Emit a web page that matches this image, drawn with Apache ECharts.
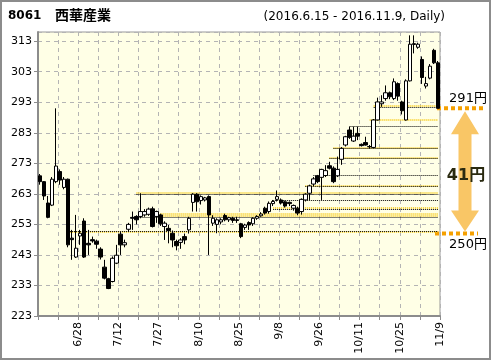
<!DOCTYPE html>
<html><head><meta charset="utf-8">
<script src="https://cdn.jsdelivr.net/npm/echarts@6/dist/echarts.min.js"></script>
<style>html,body{margin:0;padding:0;background:#fff}#c{width:496px;height:364px}</style>
</head><body><div id="c"></div>
<script>
const dates = ['6/15','6/16','6/17','6/20','6/21','6/22','6/23','6/24','6/27','6/28',
 '6/29','6/30','7/1','7/4','7/5','7/6','7/7','7/8','7/11','7/12',
 '7/13','7/14','7/15','7/19','7/20','7/21','7/22','7/25','7/26','7/27',
 '7/28','7/29','8/1','8/2','8/3','8/4','8/5','8/8','8/9','8/10',
 '8/12','8/15','8/16','8/17','8/18','8/19','8/22','8/23','8/24','8/25',
 '8/26','8/29','8/30','8/31','9/1','9/2','9/5','9/6','9/7','9/8',
 '9/9','9/12','9/13','9/14','9/15','9/16','9/20','9/21','9/23','9/26',
 '9/27','9/28','9/29','9/30','10/3','10/4','10/5','10/6','10/7','10/11',
 '10/12','10/13','10/14','10/17','10/18','10/19','10/20','10/21','10/24','10/25',
 '10/26','10/27','10/28','10/31','11/1','11/2','11/4','11/7','11/8','11/9'];
const opens = [268.9,267.0,260.0,259.3,267.0,270.3,265.1,267.8,248.5,242.3,
 249.2,254.1,246.8,248.0,247.5,244.9,239.0,235.2,234.3,240.3,
 249.8,246.3,251.4,255.3,255.6,255.6,256.1,256.3,258.1,255.6,
 256.1,252.3,251.7,250.1,247.4,247.1,249.0,251.2,260.2,262.9,
 260.8,261.0,262.1,253.4,253.0,253.8,255.9,254.5,255.0,254.5,
 253.2,252.0,253.6,253.2,255.0,255.8,258.3,257.2,259.8,261.2,
 261.0,260.4,260.2,258.3,258.3,257.2,261.0,263.2,266.2,268.9,
 268.4,269.0,272.2,271.4,268.9,274.3,279.0,283.9,280.3,282.8,
 279.2,279.8,278.5,278.2,287.2,292.5,294.2,296.1,294.2,299.1,
 293.1,287.2,300.0,311.9,311.0,307.0,298.3,300.9,310.0,305.9];
const closes = [267.0,262.3,255.3,267.8,272.1,267.5,267.8,246.3,248.0,245.2,
 250.1,242.3,246.3,247.6,246.5,242.3,235.4,232.0,241.9,242.9,
 246.3,247.0,253.0,255.0,254.5,257.2,257.2,258.0,252.3,257.2,
 253.2,253.4,251.0,247.9,246.0,247.9,247.9,255.0,262.9,260.4,
 262.1,261.7,256.1,255.0,254.5,254.5,254.5,255.2,254.3,254.3,
 249.0,252.8,252.8,255.0,255.6,256.4,256.7,259.9,260.5,262.1,
 260.0,259.0,259.8,259.2,256.7,261.2,262.9,265.6,267.9,267.0,
 271.0,270.6,271.4,267.0,271.0,277.9,281.7,281.5,281.9,281.9,
 278.8,279.0,278.4,287.2,293.1,293.1,296.1,294.8,299.7,295.0,
 290.2,300.0,312.0,312.2,312.0,301.1,299.1,304.8,305.9,291.0];
const lows = [266.0,261.0,255.0,259.0,266.5,266.0,264.5,245.5,241.4,242.0,
 246.3,242.0,243.0,247.0,245.0,241.5,235.0,231.8,234.0,240.0,
 243.0,245.5,250.5,251.2,253.0,255.0,255.5,255.8,252.0,253.5,
 252.5,247.9,246.8,245.5,244.5,245.0,246.5,250.0,257.2,257.2,
 259.5,260.5,243.0,252.5,250.1,253.0,254.0,253.8,253.5,253.5,
 248.5,251.2,251.2,252.5,254.5,255.5,256.2,256.5,259.0,260.5,
 259.5,258.5,259.0,257.5,256.0,256.2,260.5,261.0,265.5,266.5,
 261.0,268.5,271.0,266.5,268.5,272.5,278.5,281.0,280.0,280.6,
 278.5,278.8,277.8,277.9,287.0,291.5,293.5,294.0,293.7,293.5,
 289.0,287.0,299.8,309.0,310.5,299.0,297.5,300.5,305.5,291.0];
const highs = [269.5,267.2,262.3,268.5,291.0,271.0,268.5,268.0,251.2,256.1,
 251.2,255.0,251.2,249.0,248.0,245.5,241.4,235.5,242.5,246.3,
 250.5,248.0,253.5,257.2,256.0,263.2,258.0,258.5,258.8,257.5,
 256.5,254.0,252.8,251.0,248.0,248.5,250.0,255.5,263.2,263.2,
 262.5,262.0,262.5,256.0,255.0,255.0,256.5,255.5,255.5,255.5,
 253.5,253.2,254.0,255.3,256.0,257.0,258.8,260.5,261.0,264.1,
 261.5,260.8,260.5,259.5,258.8,261.5,263.2,266.0,268.5,269.2,
 271.2,272.4,273.5,272.0,275.2,278.3,282.0,285.0,285.0,285.0,
 279.5,281.7,279.0,287.5,294.5,295.3,298.5,296.5,300.8,299.5,
 293.5,300.5,314.9,314.9,312.5,308.0,301.3,305.5,310.5,306.5];
const yMin = 223, yMax = 316, yStep = 10;
const blackLevels = [250.8, 255.3, 258.1, 260.8, 263.0, 265.4, 269.0, 274.5, 277.8, 285.2, 291.3];
const blackStarts = ['6/24','7/20','9/7','9/7','7/20','9/20','9/23','9/29','9/30','10/6','10/17'];
const yellowLevels = [250.6, 255.8, 256.6, 258.5, 263.4, 265.6, 274.8, 278.2, 287.4, 291.7];
const yellowStarts = ['6/24','7/28','7/28','9/7','7/20','9/20','9/29','9/30','10/14','10/17'];
const rangeHigh = 291, rangeLow = 250;
const titleCode = '8061', titleName = '西華産業', subtitle = '(2016.6.15 - 2016.11.9, Daily)';

const candleData = dates.map((d, i) => [opens[i], closes[i], lows[i], highs[i]]);
const labelCats = ['start'].concat(dates);
const lastDate = dates[dates.length - 1];
const markData = [];
yellowLevels.forEach((lv, i) => markData.push([
  {coord: [yellowStarts[i], lv], lineStyle: {color: '#F7CC1E', width: 2, type: [1, 1], opacity: 0.9}},
  {coord: [lastDate, lv]}]));
blackLevels.forEach((lv, i) => markData.push([
  {coord: [blackStarts[i], lv], lineStyle: {color: '#000', width: 1, type: [1, 1]}},
  {coord: [lastDate, lv]}]));

const chart = echarts.init(document.getElementById('c'), null, {renderer: 'canvas'});
const gray = '#8c8c8c';
chart.setOption({
  animation: false,
  backgroundColor: '#fff',
  grid: {left: 38, right: 56, top: 32, bottom: 48, show: true, backgroundColor: '#FFFFE6', borderColor: '#999', borderWidth: 1},
  xAxis: [
    {type: 'category', data: dates, boundaryGap: true, show: false},
    {type: 'category', data: labelCats, boundaryGap: false, position: 'bottom',
     axisLine: {lineStyle: {color: gray, width: 2}},
     axisTick: {interval: 4, length: 4, lineStyle: {color: gray}},
     splitLine: {show: true, interval: 4, lineStyle: {color: '#b4b4b4', type: [4, 4]}},
     axisLabel: {rotate: 90, margin: 6, fontSize: 11, color: '#000', fontFamily: 'DejaVu Sans',
       interval: (k) => k > 0 && k % 10 === 0}}
  ],
  yAxis: {type: 'value', min: yMin, max: yMax, interval: yStep, position: 'left',
    axisLine: {show: true, lineStyle: {color: gray, width: 2}},
    axisTick: {show: true, length: 4, lineStyle: {color: gray}},
    splitLine: {show: true, lineStyle: {color: '#b4b4b4', type: [4, 4]}},
    axisLabel: {fontSize: 11, color: '#000', margin: 6, fontFamily: 'DejaVu Sans', showMaxLabel: false,
      formatter: (v) => (Math.round(v) - yMin) % yStep === 0 ? String(Math.round(v)) : ''}},
  series: [{
    type: 'candlestick', xAxisIndex: 0, data: candleData, barWidth: 4,
    itemStyle: {color: '#fff', color0: '#000', borderColor: '#000', borderColor0: '#000', borderWidth: 1},
    markLine: {silent: true, symbol: 'none', label: {show: false}, data: markData, z: 1}
  }]
});

const yH = chart.convertToPixel({yAxisIndex: 0}, rangeHigh);
const yL = chart.convertToPixel({yAxisIndex: 0}, rangeLow);
const cx = 465, hw = 14, sw = 6.5;
const orange = '#F5A000';
chart.setOption({graphic: [
  {type: 'rect', shape: {x: 1, y: 1, width: 489, height: 358}, style: {fill: 'none', stroke: gray, lineWidth: 2}},
  {type: 'text', left: 8, top: 10, style: {text: titleCode, font: 'bold 12px "DejaVu Sans"', fill: '#000'}},
  {type: 'text', left: 55, top: 8, style: {text: titleName, font: 'bold 14px "Noto Sans CJK JP"', fill: '#000'}},
  {type: 'text', x: 445, y: 17, style: {text: subtitle, font: '12px "DejaVu Sans"', fill: '#000', textAlign: 'right', textVerticalAlign: 'middle'}},
  {type: 'polygon', shape: {points: [
    [cx, yH + 3], [cx + hw, yH + 26], [cx + sw, yH + 26], [cx + sw, yL - 23], [cx + hw, yL - 23],
    [cx, yL - 2], [cx - hw, yL - 23], [cx - sw, yL - 23], [cx - sw, yH + 26], [cx - hw, yH + 26]]},
    style: {fill: 'rgba(245,160,0,0.6)'}},
  {type: 'line', shape: {x1: 437, y1: yH, x2: 483, y2: yH}, style: {stroke: orange, lineWidth: 4, lineDash: [4, 3]}},
  {type: 'line', shape: {x1: 435, y1: yL, x2: 478, y2: yL}, style: {stroke: orange, lineWidth: 4, lineDash: [4, 3]}},
  {type: 'text', x: 468, y: yH - 10, style: {text: rangeHigh + '円', font: '13px "DejaVu Sans", "Noto Sans CJK JP"', fill: '#000', textAlign: 'center', textVerticalAlign: 'middle'}},
  {type: 'text', x: 468, y: yL + 11, style: {text: rangeLow + '円', font: '13px "DejaVu Sans", "Noto Sans CJK JP"', fill: '#000', textAlign: 'center', textVerticalAlign: 'middle'}},
  {type: 'text', x: 466, y: (yH + yL) / 2 + 5, style: {text: (rangeHigh - rangeLow) + '円', font: 'bold 16px "DejaVu Sans", "Noto Sans CJK JP"', fill: '#2a2a10', textAlign: 'center', textVerticalAlign: 'middle'}}
]});
</script>
</body></html>
